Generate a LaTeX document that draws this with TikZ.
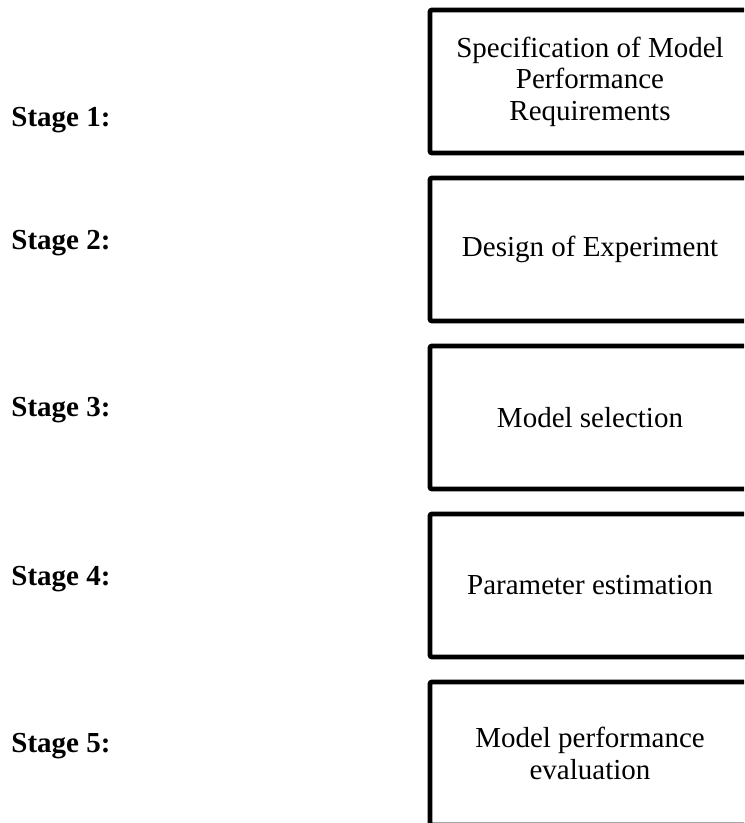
\documentclass[tikz,border=0pt]{standalone}
\usepackage{fontspec}
\setmainfont{Liberation Serif}
\usetikzlibrary{positioning}

\begin{document}
\begin{tikzpicture}[
  x=0.5pt,y=-0.5pt,
  node distance=12.5pt,
  stagebox/.style={draw,line width=2.4pt,rounded corners=1pt,outer sep=0pt,inner sep=0pt,
    minimum width=160pt,minimum height=71.5pt,align=center,font=\fontsize{14.5}{15.8}\selectfont},
  stagelbl/.style={anchor=base west,inner sep=0pt,font=\fontsize{14.5}{15.8}\selectfont\bfseries}
]
\useasboundingbox (0,0) rectangle (744,823);
\clip (0,0) rectangle (744,823);
% boxes
\node[stagebox,anchor=north west] (spec) at (430,10) {Specification of Model\\Performance\\Requirements};
\node[stagebox,below=of spec]  (doe)   {Design of Experiment};
\node[stagebox,below=of doe]   (msel)  {Model selection};
\node[stagebox,below=of msel]  (pest)  {Parameter estimation};
\node[stagebox,below=of pest]  (mperf) {Model performance\\evaluation};
% stage labels
\node[stagelbl] (st1) at (11,127) {Stage 1:};
\node[stagelbl] (st2) at (11,250) {Stage 2:};
\node[stagelbl] (st3) at (11,416) {Stage 3:};
\node[stagelbl] (st4) at (11,585) {Stage 4:};
\node[stagelbl] (st5) at (11,752) {Stage 5:};
\end{tikzpicture}
\end{document}
